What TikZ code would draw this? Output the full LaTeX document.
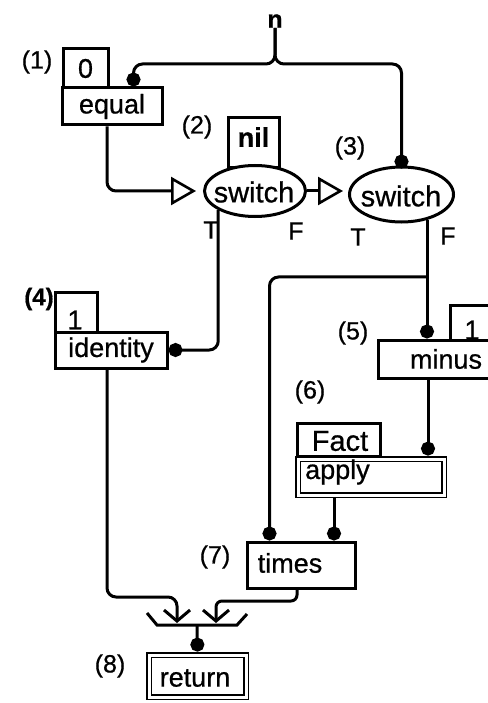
\documentclass[tikz,border=0pt]{standalone}
\usepackage{fontspec}
\setmainfont{Liberation Sans}[FakeBold=0.7]
\usetikzlibrary{shapes.geometric,arrows.meta,calc}
\begin{document}
\begin{tikzpicture}[x=1pt,y=-1pt,
  wire/.style={line width=3pt, rounded corners=9pt},
  box/.style={draw, line width=3pt, rectangle, inner sep=0pt, fill=white},
  dbox/.style={draw, line width=1.9pt, double=white, double distance=3pt, rectangle, inner sep=0pt, fill=white, outer sep=3.4pt},
  sw/.style={draw, line width=3pt, ellipse, inner sep=0pt, fill=white},
  txt/.style={font=\fontsize{27}{30}\selectfont, inner sep=0pt},
  lbl/.style={font=\fontsize{25}{28}\selectfont, inner sep=0pt},
  todot/.style={-{Circle[length=14pt]}},
  totri/.style={-{Triangle[open,length=25pt,width=28pt,line width=2.6pt]}},
  tobarb/.style={-{Straight Barb[length=11pt,width=26pt]}},
]
\useasboundingbox (0,0) rectangle (487,703);

% input n
\node[lbl, font=\fontsize{25}{28}\selectfont\bfseries] (nlab) at (275,21) {n};
\coordinate (nj) at (275,64);

% (1) equal
\node[lbl] (l1) at (37,62) {(1)};
\node[box, txt, minimum width=45, minimum height=39] (c0) at (85.5,68.5) {0};
\node[box, txt, minimum width=100, minimum height=37] (equal) at (112,106.5) {equal};

% (2) switch with nil
\node[lbl] (l2) at (197,127) {(2)};
\node[box, minimum width=51, minimum height=50] (nilb) at (253.5,143) {};
\node[txt, font=\fontsize{27}{30}\selectfont\bfseries] (nilt) at (253.5,137) {nil};
\node[sw, minimum width=101, minimum height=51] (sw2) at (255,191) {};
\node[txt, font=\fontsize{29}{32}\selectfont] (sw2t) at (254,192) {switch};

% (3) switch
\node[lbl] (l3) at (350,148) {(3)};
\node[sw, minimum width=104, minimum height=55] (sw3) at (401.5,194.5) {};
\node[txt, font=\fontsize{29}{32}\selectfont] (sw3t) at (401,196) {switch};

\node[lbl] (t2) at (211,230) {T};
\node[lbl] (f2) at (296,231) {F};
\node[lbl] (t3) at (358,237) {T};
\node[lbl] (f3) at (448,236) {F};

% (4) identity
\node[lbl, font=\fontsize{24}{28}\selectfont\bfseries] (l4) at (39,299) {(4)};
\node[box, minimum width=42, minimum height=40] (c1) at (76,312) {};
\node[txt] (c1t) at (75,320) {1};
\node[box, txt, minimum width=112, minimum height=36] (identity) at (111,350) {identity};

% (5) minus
\node[lbl] (l5) at (353,333) {(5)};
\node[box, minimum width=42, minimum height=35] (c1b) at (471,322.5) {};
\node[txt] (c1bt) at (472,330) {1};
\node[box, minimum width=114, minimum height=38] (minus) at (435,359) {};
\node[txt] (minust) at (446,359) {minus};

% (6) apply
\node[lbl] (l6) at (310,392) {(6)};
\node[box, minimum width=83, minimum height=33] (fact) at (338.5,439.5) {};
\node[txt, font=\fontsize{29}{32}\selectfont] (factt) at (340,441) {Fact};
\node[dbox, minimum width=146, minimum height=36] (apply) at (371,477) {};
\node[txt, anchor=west] (applyt) at (305,472) {apply};

% (7) times
\node[lbl] (l7) at (215,557) {(7)};
\node[box, minimum width=108, minimum height=46] (times) at (301,565) {};
\node[txt] (timest) at (290,563) {times};

% (8) return
\node[lbl] (l8) at (110,666) {(8)};
\node[dbox, minimum width=97, minimum height=42] (ret) at (197.5,676) {};
\node[txt] (rett) at (195,678) {return};

% merge point
\coordinate (mg) at (197,625);

% wires
\draw[wire, todot] (nlab.south) -- (nj) -| ($(equal.north west)+(73,0)$);
\draw[wire, todot] (nlab.south) -- (nj) -| ($(sw3.north)+(0,3)$);

\draw[wire, totri, shorten >=7pt] ($(equal.south)+(-5,0)$) |- (sw2.west);
\draw[wire, totri, shorten >=5pt] (sw2.east) -- (sw3.west |- sw2.east);

\draw[wire, todot] (sw2.south west) |- (identity.east);

\coordinate (br) at ($(sw3.-45)+(0,57)$);
\draw[wire] (sw3.-45) -- (br);
\draw[wire, todot] (br) -- (br |- minus.north);
\draw[wire, todot] (br) -| ($(times.north west)+(24,0)$);

\coordinate (ma) at ($(minus.south)+(-7,0)$);
\draw[wire, todot] (ma) -- (ma |- apply.north);
\coordinate (aa) at ($(apply.south)+(-37,0)$);
\draw[wire, todot] (aa) -- (aa |- times.north);

\coordinate (io) at ($(identity.south)+(-4,0)$);
\draw[wire, tobarb] (io) |- ($(mg)+(-20,-28)$) -- ($(mg)+(-20,-2)$);
\coordinate (tout) at ($(times.south)+(-4,0)$);
\draw[wire, rounded corners=6pt, tobarb] (tout) |- ($(mg)+(19,-24)$) -- ($(mg)+(19,-2)$);

\draw[line width=3pt] ($(mg)+(-50,-12)$) -- ($(mg)+(-40,0)$) -- ($(mg)+(40,0)$) -- ($(mg)+(50,-11)$);
\draw[wire, todot] (mg) -- (ret.north);
\end{tikzpicture}
\end{document}
